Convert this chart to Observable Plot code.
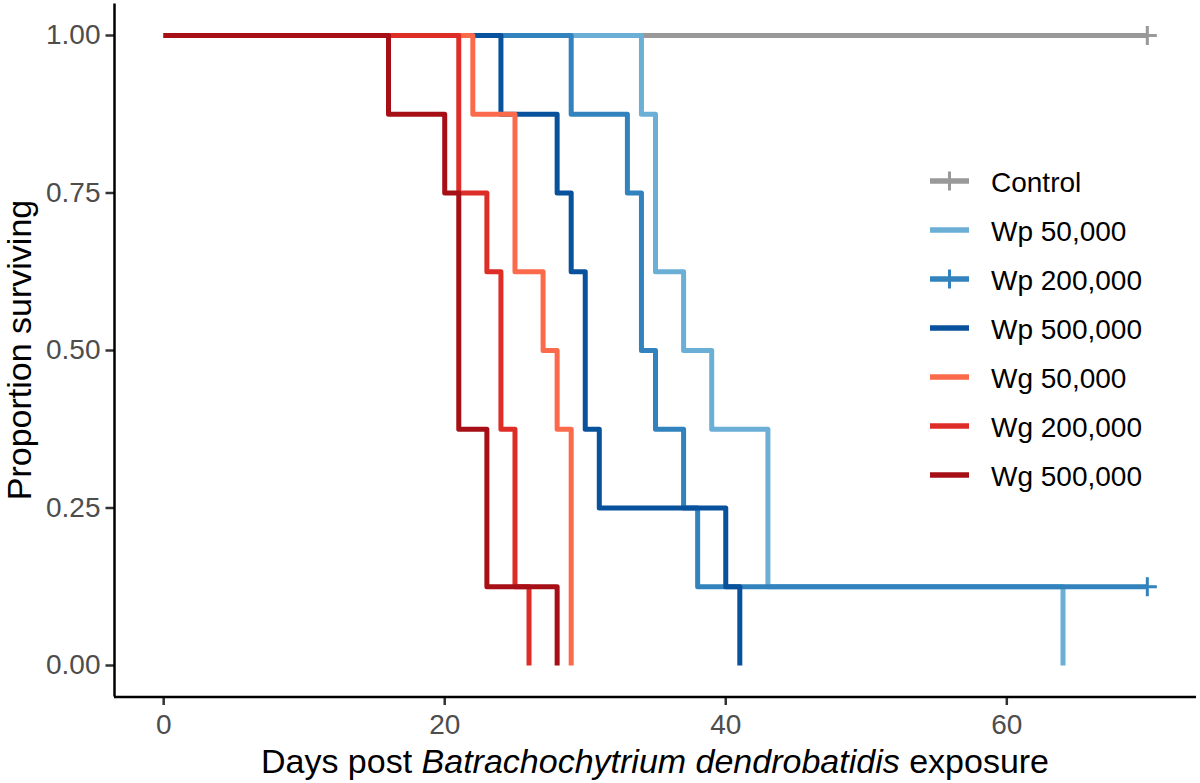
<!DOCTYPE html>
<html><head><meta charset="utf-8">
<script src="https://cdn.jsdelivr.net/npm/d3@7"></script>
<script src="https://cdn.jsdelivr.net/npm/@observablehq/plot@0.6"></script>
<style>
html,body{margin:0;padding:0;background:#fff;}
#chart svg{display:block;}
</style></head><body><div id="chart"></div>
<script>
// ---- data ----
const groups = ["Control","Wp 50,000","Wp 200,000","Wp 500,000","Wg 50,000","Wg 200,000","Wg 500,000"];
const colors = ["#999999","#6BAED6","#3182BD","#08519C","#FB6A4A","#DE2D26","#A50F15"];

const controlDays = [0, 70];                         const controlSurv = [1, 1];
const wp50Days  = [0, 34, 35, 37, 39, 43, 64];        const wp50Surv  = [1, 0.875, 0.625, 0.5, 0.375, 0.125, 0];
const wp200Days = [0, 29, 33, 34, 35, 37, 38, 70];    const wp200Surv = [1, 0.875, 0.75, 0.5, 0.375, 0.25, 0.125, 0.125];
const wp500Days = [0, 24, 28, 29, 30, 31, 40, 41];    const wp500Surv = [1, 0.875, 0.75, 0.625, 0.375, 0.25, 0.125, 0];
const wg50Days  = [0, 22, 25, 27, 28, 29];            const wg50Surv  = [1, 0.875, 0.625, 0.5, 0.375, 0];
const wg200Days = [0, 21, 23, 24, 25, 26];            const wg200Surv = [1, 0.75, 0.625, 0.375, 0.125, 0];
const wg500Days = [0, 16, 20, 21, 23, 28];            const wg500Surv = [1, 0.875, 0.75, 0.375, 0.125, 0];

// censored observations (+ marks)
const censorGroups = ["Control", "Wp 200,000"];
const censorDays   = [70, 70];
const censorSurv   = [1, 0.125];

const xTicks = [0, 20, 40, 60];
const yTicks = [0, 0.25, 0.5, 0.75, 1];
const xDomain = [-3.5, 73.5];
const yDomain = [-0.05, 1.05];

// ---- build tables ----
const series = [
  [controlDays, controlSurv], [wp50Days, wp50Surv], [wp200Days, wp200Surv], [wp500Days, wp500Surv],
  [wg50Days, wg50Surv], [wg200Days, wg200Surv], [wg500Days, wg500Surv]
];
const rows = [];
series.forEach(([ds, ss], i) => ds.forEach((d, j) => rows.push({group: groups[i], day: d, surv: ss[j]})));
const censorRows = censorGroups.map((g, i) => ({group: g, day: censorDays[i], surv: censorSurv[i]}));

const plusSymbol = {
  draw(ctx, size) {
    const r = Math.sqrt(size / Math.PI);
    ctx.moveTo(-r, 0); ctx.lineTo(r, 0);
    ctx.moveTo(0, -r); ctx.lineTo(0, r);
  }
};

const W = 1200, H = 783;
const mL = 114, mR = 4, mT = 3.5, mB = 86.5;

const plot = Plot.plot({
  width: W, height: H,
  marginLeft: mL, marginRight: mR, marginTop: mT, marginBottom: mB,
  style: {fontFamily: "'Liberation Sans', Arial, Helvetica, sans-serif", background: "#fff"},
  x: {domain: xDomain},
  y: {domain: yDomain},
  color: {domain: groups, range: colors},
  marks: [
    Plot.axisX({ticks: xTicks, tickSize: 8.5, tickPadding: 9, fontSize: 28, stroke: "#333333", fill: "#4D4D4D", strokeWidth: 2.5, label: null}),
    Plot.axisY({ticks: yTicks, tickFormat: d3.format(".2f"), tickSize: 8.5, tickPadding: 5.5, fontSize: 28, stroke: "#333333", fill: "#4D4D4D", strokeWidth: 2.5, label: null}),
    Plot.line(rows, {x: "day", y: "surv", z: "group", stroke: "group", curve: "step-after", strokeWidth: 5, strokeLinecap: "butt", strokeLinejoin: "round"}),
    Plot.dot(censorRows, {x: "day", y: "surv", stroke: "group", symbol: plusSymbol, r: 9.5, strokeWidth: 3, fill: "none"}),
    Plot.ruleX([xDomain[0]], {stroke: "#000", strokeWidth: 2.5}),
    Plot.ruleY([yDomain[0]], {stroke: "#000", strokeWidth: 2.5})
  ]
});
document.getElementById("chart").appendChild(plot);

// ---- axis titles and legend added to the SVG ----
const svg = d3.select(plot);
const font = "'Liberation Sans', Arial, Helvetica, sans-serif";

const xt = svg.append("text")
  .attr("x", (mL + W - mR) / 2).attr("y", 772.5)
  .attr("text-anchor", "middle").attr("font-size", 34).attr("font-family", font).attr("fill", "#000");
xt.append("tspan").text("Days post ");
xt.append("tspan").attr("font-style", "italic").text("Batrachochytrium dendrobatidis");
xt.append("tspan").text(" exposure");

svg.append("text")
  .attr("transform", `translate(31,${(mT + H - mB) / 2}) rotate(-90)`)
  .attr("text-anchor", "middle").attr("font-size", 34).attr("font-family", font).attr("fill", "#000")
  .text("Proportion surviving");

const lg = svg.append("g").attr("transform", "translate(930,181)");
groups.forEach((g, i) => {
  const row = lg.append("g").attr("transform", `translate(0,${i * 49})`);
  const c = colors[i];
  row.append("line").attr("x1", 0).attr("x2", 39).attr("y1", 0).attr("y2", 0)
    .attr("stroke", c).attr("stroke-width", 5.5);
  if (censorGroups.includes(g)) {
    row.append("line").attr("x1", 19.5).attr("x2", 19.5).attr("y1", -9.5).attr("y2", 9.5)
      .attr("stroke", c).attr("stroke-width", 3);
  }
  row.append("text").attr("x", 61).attr("y", 10.5).attr("font-size", 28).attr("font-family", font)
    .attr("text-anchor", "start").attr("fill", "#000").text(g);
});
</script>
</body></html>
